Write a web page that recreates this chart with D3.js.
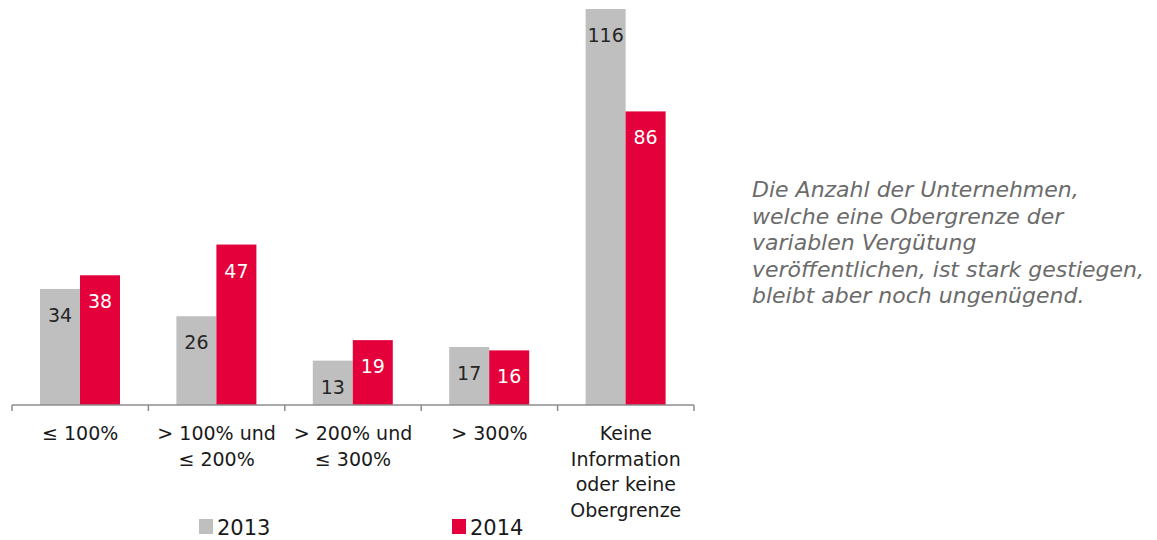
<!DOCTYPE html>
<html>
<head>
<meta charset="utf-8">
<script src="https://cdn.jsdelivr.net/npm/d3@7"></script>
<style>
  body { margin: 0; background: #fff; }
  svg { display: block; font-family: "DejaVu Sans", "Liberation Sans", Arial, sans-serif; }
</style>
</head>
<body>
<div id="chart"></div>
<script>
'use strict';

// data
var categories = ["le100", "100-200", "200-300", "gt300", "keine"];
var categoryLabels = [
    ["\u2264 100%"],
    ["> 100% und", "\u2264 200%"],
    ["> 200% und", "\u2264 300%"],
    ["> 300%"],
    ["Keine", "Information", "oder keine", "Obergrenze"]
];
var seriesNames = ["2013", "2014"];
var values2013 = [34, 26, 13, 17, 116];
var values2014 = [38, 47, 19, 16, 86];
var noteLines = [
    "Die Anzahl der Unternehmen,",
    "welche eine Obergrenze der",
    "variablen Verg\u00fctung",
    "ver\u00f6ffentlichen, ist stark gestiegen,",
    "bleibt aber noch ungen\u00fcgend."
];

var width = 1157, height = 540;
var colors = { "2013": "#bfbfbf", "2014": "#e4003a" };
var labelColors = { "2013": "#262626", "2014": "#ffffff" };

var svg = d3.select("#chart").append("svg")
    .attr("width", width)
    .attr("height", height);

var x0 = d3.scaleBand()
    .domain(categories)
    .range([12, 694]);

var x1 = d3.scaleBand()
    .domain(seriesNames)
    .range([28, 108]);

var y = d3.scaleLinear()
    .domain([0, 116])
    .range([405, 9]);

var seriesValues = { "2013": values2013, "2014": values2014 };

var rows = [];
for (var i = 0; i < categories.length; i++) {
    for (var j = 0; j < seriesNames.length; j++) {
        rows.push({ cat: categories[i], series: seriesNames[j], value: seriesValues[seriesNames[j]][i] });
    }
}

svg.selectAll("rect.bar")
    .data(rows)
  .enter().append("rect")
    .attr("class", "bar")
    .attr("x", function(d) { return x0(d.cat) + x1(d.series); })
    .attr("width", x1.bandwidth())
    .attr("y", function(d) { return y(d.value); })
    .attr("height", function(d) { return y(0) - y(d.value); })
    .style("fill", function(d) { return colors[d.series]; });

svg.selectAll("text.value")
    .data(rows)
  .enter().append("text")
    .attr("class", "value")
    .attr("x", function(d) { return x0(d.cat) + x1(d.series) + x1.bandwidth() / 2; })
    .attr("y", function(d) { return y(d.value) + 33; })
    .attr("text-anchor", "middle")
    .style("font-size", "19px")
    .style("fill", function(d) { return labelColors[d.series]; })
    .text(function(d) { return d.value; });

// x axis with ticks at the band edges
var axis = svg.append("g").attr("class", "axis");
axis.append("line")
    .attr("x1", x0.range()[0]).attr("x2", x0.range()[1])
    .attr("y1", y(0)).attr("y2", y(0))
    .style("stroke", "#8c8c8c").style("stroke-width", 1.5);

var edges = categories.map(function(c) { return x0(c); }).concat([x0.range()[1]]);
axis.selectAll("line.tick")
    .data(edges)
  .enter().append("line")
    .attr("class", "tick")
    .attr("x1", function(d) { return d; }).attr("x2", function(d) { return d; })
    .attr("y1", y(0)).attr("y2", y(0) + 6)
    .style("stroke", "#8c8c8c").style("stroke-width", 1.5);

var catText = axis.selectAll("text.cat")
    .data(categories)
  .enter().append("text")
    .attr("class", "cat")
    .attr("text-anchor", "middle")
    .style("font-size", "19px")
    .style("fill", "#1a1a1a");

catText.each(function(c, i) {
    var t = d3.select(this);
    categoryLabels[i].forEach(function(line, k) {
        t.append("tspan")
            .attr("x", x0(c) + x0.bandwidth() / 2)
            .attr("y", 440 + k * 25.5)
            .text(line);
    });
});

// legend
var legendX = [199, 452];
var legend = svg.selectAll("g.legend")
    .data(seriesNames)
  .enter().append("g")
    .attr("class", "legend")
    .attr("transform", function(d, i) { return "translate(" + legendX[i] + ",519)"; });
legend.append("rect")
    .attr("width", 14).attr("height", 15)
    .style("fill", function(d) { return colors[d]; });
legend.append("text")
    .attr("x", 18).attr("y", 16)
    .style("font-size", "21px")
    .style("fill", "#1a1a1a")
    .text(function(d) { return d; });

// note on the right
svg.append("text")
    .style("font-size", "22px")
    .style("font-style", "italic")
    .style("fill", "#6b6b6b")
  .selectAll("tspan")
    .data(noteLines)
  .enter().append("tspan")
    .attr("x", 752)
    .attr("y", function(d, i) { return 197 + i * 26.5; })
    .text(function(d) { return d; });
</script>
</body>
</html>
